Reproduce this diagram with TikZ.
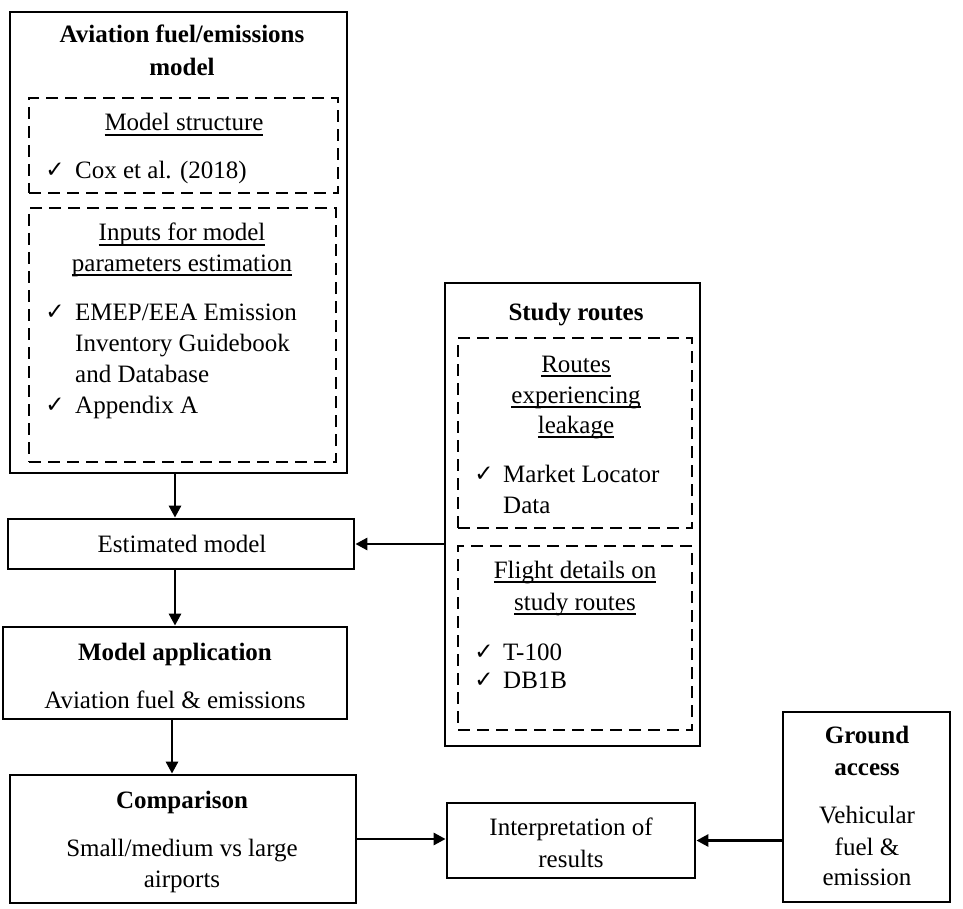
\documentclass[tikz,border=0pt]{standalone}
\usepackage{fontspec}
\setmainfont{Liberation Serif}
\newfontfamily\symf{DejaVu Sans}
\usetikzlibrary{arrows.meta}
\newcommand{\chk}{{\symf\fontsize{23}{23}\selectfont ✓}}
\newcommand{\myul}[1]{\setbox0\hbox{#1}\rlap{\vrule height -3pt depth 4.8pt width \wd0}\box0}
\tikzset{
  x=1pt, y=1pt,
  solidbox/.style={draw, line width=2.8pt, rectangle, inner sep=0pt},
  dashbox/.style={draw, line width=2.8pt, rectangle, inner sep=0pt, dash pattern=on 12pt off 7pt},
  txt/.style={inner sep=0pt, anchor=base, font=\fontsize{25}{31}\selectfont},
  txtl/.style={txt, anchor=base west},
  btxt/.style={txt, font=\fontsize{25}{31}\selectfont\bfseries},
  chkn/.style={inner sep=0pt, anchor=base},
  arr/.style={line width=2.8pt, -{Triangle[length=12pt,width=12pt]}}
}
\begin{document}
\begin{tikzpicture}
\useasboundingbox (0,0) rectangle (963,-909);
% boxes
\node[solidbox, minimum width=337pt, minimum height=461pt] (boxA) at (178.5,-242.5) {};
\node[dashbox, minimum width=309pt, minimum height=95pt] (dashA1) at (183.5,-145.5) {};
\node[dashbox, minimum width=307pt, minimum height=254pt] (dashA2) at (182.5,-335) {};
\node[solidbox, minimum width=346pt, minimum height=50pt] (est) at (181,-544) {};
\node[solidbox, minimum width=344pt, minimum height=92pt] (app) at (175,-673) {};
\node[solidbox, minimum width=346pt, minimum height=128pt] (cmp) at (183,-839) {};
\node[solidbox, minimum width=248pt, minimum height=75pt] (interp) at (571,-840.5) {};
\node[solidbox, minimum width=167pt, minimum height=190pt] (ground) at (866.5,-807) {};
\node[solidbox, minimum width=255pt, minimum height=463pt] (study) at (572.5,-514.5) {};
\node[dashbox, minimum width=234pt, minimum height=190pt] (dashS1) at (575,-433) {};
\node[dashbox, minimum width=234pt, minimum height=184pt] (dashS2) at (575,-638) {};
% texts box A
\node[btxt] (a1) at (182,-43) {Aviation fuel/emissions};
\node[btxt] (a2) at (182,-76) {model};
\node[txt] (a3) at (184,-131) {\myul{Model structure}};
\node[chkn] (c1) at (55,-178) {\chk};
\node[txtl] (a4) at (75,-179) {Cox et al. (2018)};
\node[txt] (a5) at (182,-241) {\myul{Inputs for model}};
\node[txt] (a6) at (182,-271) {\myul{parameters estimation}};
\node[chkn] (c2) at (55,-319) {\chk};
\node[txtl] (a7) at (75,-320) {EMEP/EEA Emission};
\node[txtl] (a8) at (75,-351) {Inventory Guidebook};
\node[txtl] (a9) at (75,-382) {and Database};
\node[chkn] (c3) at (55,-412) {\chk};
\node[txtl] (a10) at (75,-413) {Appendix A};
% estimated model
\node[txt] (e1) at (182,-552) {Estimated model};
% model application
\node[btxt] (m1) at (175,-660) {Model application};
\node[txt] (m2) at (175,-708) {Aviation fuel \& emissions};
% comparison
\node[btxt] (k1) at (182,-808) {Comparison};
\node[txt] (k2) at (182,-856) {Small/medium vs large};
\node[txt] (k3) at (182,-887) {airports};
% interpretation
\node[txt] (i1) at (571,-835) {Interpretation of};
\node[txt] (i2) at (571,-867) {results};
% ground access
\node[btxt] (g1) at (867,-743) {Ground};
\node[btxt] (g2) at (867,-775) {access};
\node[txt] (g3) at (867,-823) {Vehicular};
\node[txt] (g4) at (867,-855) {fuel \&};
\node[txt] (g5) at (867,-885) {emission};
% study routes
\node[btxt] (s1) at (576,-320) {Study routes};
\node[txt] (s2) at (576,-372) {\myul{Routes}};
\node[txt] (s3) at (576,-403) {\myul{experiencing}};
\node[txt] (s4) at (576,-433) {\myul{leakage}};
\node[chkn] (c4) at (484,-481) {\chk};
\node[txtl] (s5) at (503,-482) {Market Locator};
\node[txtl] (s6) at (503,-513) {Data};
\node[txt] (s7) at (575,-578) {\myul{Flight details on}};
\node[txt] (s8) at (575,-610) {\myul{study routes}};
\node[chkn] (c5) at (484,-659) {\chk};
\node[txtl] (s9) at (503,-660) {T-100};
\node[chkn] (c6) at (484,-687) {\chk};
\node[txtl] (s10) at (503,-688) {DB1B};
% arrows
\coordinate (ax1) at (175,0);
\coordinate (ax2) at (172,0);
\draw[arr] (ax1 |- boxA.south) -- (ax1 |- est.north);
\draw[arr] (ax1 |- est.south) -- (ax1 |- app.north);
\draw[arr] (ax2 |- app.south) -- (ax2 |- cmp.north);
\draw[arr] (study.west |- est.east) -- (est.east);
\draw[arr] (cmp.east) -- (interp.west |- cmp.east);
\draw[arr] (ground.west |- interp.east) -- (interp.east);
\end{tikzpicture}
\end{document}
